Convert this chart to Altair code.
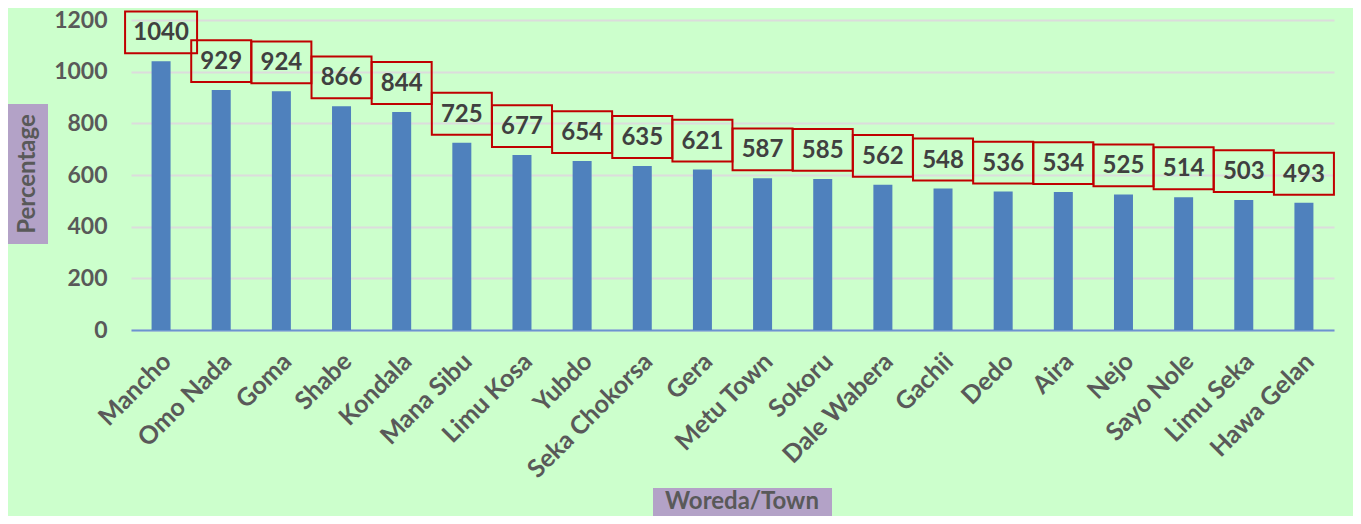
import altair as alt
import pandas as pd

names = ["Mancho", "Omo Nada", "Goma", "Shabe", "Kondala", "Mana Sibu", "Limu Kosa",
         "Yubdo", "Seka Chokorsa", "Gera", "Metu Town", "Sokoru", "Dale Wabera",
         "Gachii", "Dedo", "Aira", "Nejo", "Sayo Nole", "Limu Seka", "Hawa Gelan"]
values = [1040, 929, 924, 866, 844, 725, 677, 654, 635, 621, 587, 585, 562,
          548, 536, 534, 525, 514, 503, 493]
y_ticks = [0, 200, 400, 600, 800, 1000, 1200]
x_title = "Woreda/Town"
y_title = "Percentage"

FONT = "Lato"
df = pd.DataFrame({"name": names, "value": values})

x = alt.X("name:N", sort=names, title=None,
          scale=alt.Scale(paddingInner=0, paddingOuter=0),
          axis=alt.Axis(labelAngle=-45, labelAlign="right", labelBaseline="middle",
                        labelFont=FONT, labelFontSize=25, labelFontWeight="bold",
                        labelColor="#595959", labelPadding=27, labelOffset=6,
                        ticks=False, domainColor="#6A95CF", domainWidth=2))
yscale = alt.Scale(domain=[0, 1200], nice=False)
y = alt.Y("value:Q", scale=yscale, title=None,
          axis=alt.Axis(values=y_ticks, format="d", labelFont=FONT, labelFontSize=23,
                        labelFontWeight="bold", labelColor="#595959",
                        labelPadding=24, ticks=False, domain=False,
                        gridColor="#DCDCDC", gridWidth=2))

base = alt.Chart(df)
bars = base.mark_bar(width=19, color="#4F81BD").encode(x=x, y=y)

boxes = base.transform_calculate(
    lo="datum.value + 31", hi="datum.value + 193",
    bw="length(toString(datum.value)) > 3 ? 72 : 60"
).mark_bar(filled=False, stroke="#C00000", strokeWidth=2).encode(
    x=alt.X("name:N", sort=names),
    y=alt.Y("lo:Q", scale=yscale),
    y2="hi:Q",
    size=alt.Size("bw:Q", scale=None, legend=None),
)

labels = base.transform_calculate(mid="datum.value + 112").mark_text(
    font=FONT, fontSize=24, fontWeight="bold", color="#404040", baseline="middle", dy=1
).encode(x=alt.X("name:N", sort=names), y=alt.Y("mid:Q", scale=yscale),
         text=alt.Text("value:Q"))

ytd = alt.Chart(pd.DataFrame({"t": [y_title]}))
ybox = ytd.mark_rect(color="#B3A2C7").encode(
    x=alt.value(-124), x2=alt.value(-83), y=alt.value(84), y2=alt.value(224))
ytext = ytd.mark_text(font=FONT, fontSize=24, fontWeight="bold", color="#595959",
                      angle=270, baseline="middle", align="center").encode(
    x=alt.value(-103), y=alt.value(154), text="t:N")

xtd = alt.Chart(pd.DataFrame({"t": [x_title]}))
xbox = xtd.mark_rect(color="#B3A2C7").encode(
    x=alt.value(522), x2=alt.value(701), y=alt.value(468), y2=alt.value(520))
xtext = xtd.mark_text(font=FONT, fontSize=24, fontWeight="bold", color="#595959",
                      baseline="middle", align="center").encode(
    x=alt.value(611), y=alt.value(482), text="t:N")

chart = alt.layer(bars, boxes, labels, ybox, ytext, xbox, xtext).properties(
    width=1203, height=310,
    padding={"left": 123, "top": 12, "right": 19, "bottom": 186},
    autosize=alt.AutoSizeParams(type="none"),
    background="#CCFFCC",
).configure_view(stroke=None)

chart.save("out.html", embed_options={"renderer": "svg", "actions": False})
